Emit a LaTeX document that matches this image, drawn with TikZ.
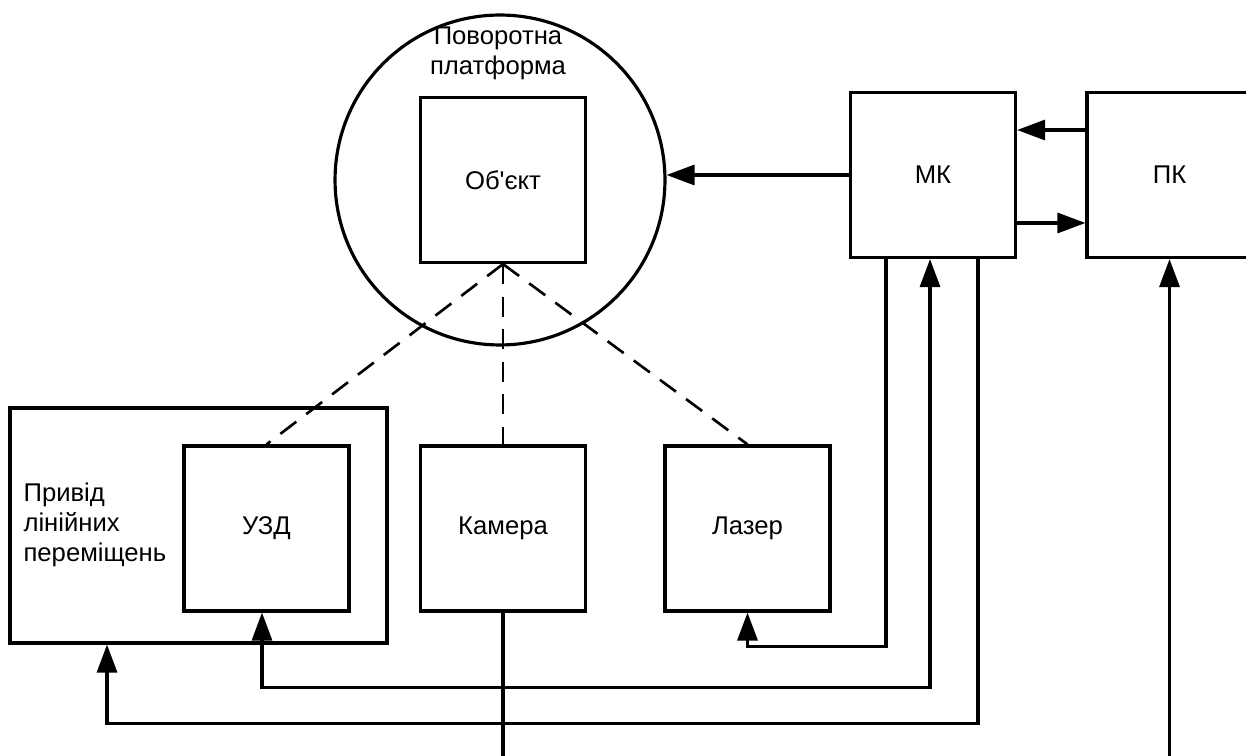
\documentclass[tikz,border=0pt]{standalone}
\usepackage{fontspec}
\setmainfont{Liberation Sans}
\usetikzlibrary{arrows.meta}

\begin{document}
\begin{tikzpicture}[   % параметри за замовчуванням
  x=0.02cm, y=-0.02cm,   % одиниця = 1 піксель, вісь y вниз
  line width=1.8pt,      % товщина ліній
  >={Triangle[length=0.56cm,width=0.4cm]},   % суцільна стрілка
  font=\fontsize{14.6}{17}\selectfont
]
  \tikzstyle{block}=[draw, rectangle, minimum width=3.3cm, minimum height=3.3cm, inner sep=0pt];
  \tikzstyle{ray}=[dash pattern=on 0.4cm off 0.25cm, line width=1.5pt];
  \useasboundingbox (0,0) rectangle (1246,756);
  %
  % поворотна платформа з об'єктом
  \node [draw, circle, minimum size=6.6cm, inner sep=0pt] (plat) at (500,180) {};
  \node [align=center, inner sep=0pt] (platlbl) at (498,53) {Поворотна\\платформа};
  \node [block] (obj) at (503,180) {Об\textquotesingle єкт};
  %
  % МК і ПК
  \node [block] (mk) at (933,175) {МК};
  \node [block] (pk) at (1169.5,175) {ПК};
  %
  % нижній ряд
  \node [draw, rectangle, minimum width=7.54cm, minimum height=4.7cm] (priv) at (198.5,525.5) {};
  \node [anchor=west, align=left, inner sep=0pt] (privlbl) at (22,525) {Привід\\лінійних\\переміщень};
  \node [block] (uzd) at (266.5,528.5) {УЗД};
  \node [block] (cam) at (503,528.5) {Камера};
  \node [block] (las) at (747.5,528.5) {Лазер};
  %
  % промені від об'єкта
  \foreach \n in {uzd,cam,las} {
    \draw[ray] (obj.south) -- (\n.north);
  }
  %
  % МК - платформа, МК - ПК
  \draw[->] (mk.west) -- (mk.west -| plat.east);
  \draw[->] ([yshift=0.9cm]pk.west) -- ([yshift=0.9cm]mk.east);
  \draw[->] ([yshift=-0.96cm]mk.east) -- ([yshift=-0.96cm]pk.west);
  %
  % МК - лазер
  \draw[->] ([xshift=-0.94cm]mk.south) |- ([yshift=-0.68cm]las.south) -- (las.south);
  %
  % МК - УЗД
  \draw[<->] ([xshift=-0.09cm]uzd.south) -- ++(0,75) -| ([xshift=-0.06cm]mk.south);
  %
  % МК - привід
  \draw[->] ([xshift=0.9cm]mk.south) |- ([xshift=-1.83cm, yshift=-1.58cm]priv.south) -- ([xshift=-1.83cm]priv.south);
  %
  % вихід камери
  \coordinate (camout) at (cam.south |- 0,756);
  \draw (cam.south) -- (camout);
  %
  % вхід ПК
  \coordinate (pkin) at (pk.south |- 0,756);
  \draw[->] (pkin) -- (pk.south);
\end{tikzpicture}
\end{document}
